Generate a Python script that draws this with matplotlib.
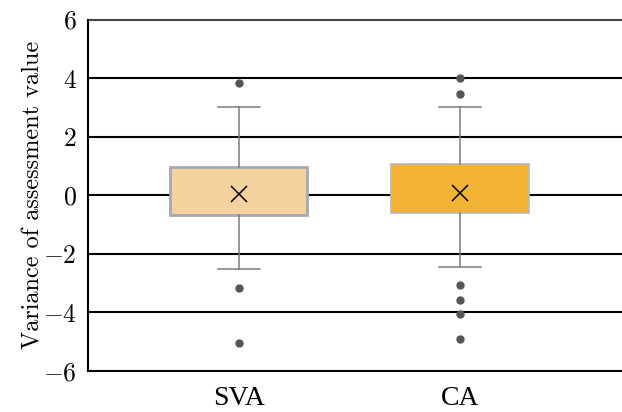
import matplotlib
matplotlib.use("Agg")
import matplotlib.pyplot as plt

plt.rcParams['font.family'] = 'cmr10'
plt.rcParams['mathtext.fontset'] = 'cm'
plt.rcParams['axes.formatter.use_mathtext'] = True

groups = ['SVA', 'CA']
q1 = [-0.69, -0.59]
q3 = [0.98, 1.07]
medians = [0.05, 0.07]
means = [0.05, 0.07]
whislo = [-2.52, -2.45]
whishi = [3.0, 3.0]
fliers = [
    [3.85, -3.15, -5.05],
    [4.0, 3.45, -3.08, -3.57, -4.05, -4.92],
]
fills = ['#F5D19D', '#F3B335']
edges = ['#A3A9B8', '#B8B8B8']

stats = []
for i, g in enumerate(groups):
    stats.append(dict(label=g, q1=q1[i], q3=q3[i], med=medians[i], mean=means[i],
                      whislo=whislo[i], whishi=whishi[i], fliers=fliers[i]))

fig = plt.figure(figsize=(6.22, 4.12), dpi=100)
ax = fig.add_axes([0.1415, 0.0995, 0.8585, 0.853])

for y in [-4, -2, 0, 2, 4]:
    ax.axhline(y, color='black', lw=1.5, zorder=0)
ax.axhline(6, color='#444444', lw=1.5, zorder=0, clip_on=False)

bp = ax.bxp(stats, positions=[0, 1], widths=0.62, capwidths=0.19, patch_artist=True, showmeans=True,
            meanprops=dict(marker='x', markeredgecolor='black', markersize=11, markeredgewidth=1.1),
            medianprops=dict(linewidth=0),
            whiskerprops=dict(color='#7a7a7a', lw=1.1),
            capprops=dict(color='#7a7a7a', lw=1.1),
            flierprops=dict(marker='o', markerfacecolor='#555555', markeredgecolor='#555555', markersize=5))
for i, box in enumerate(bp['boxes']):
    box.set_facecolor(fills[i])
    box.set_edgecolor(edges[i])
    box.set_linewidth(2.0 if i == 0 else 1.2)
    box.set_zorder(2)

ax.set_xlim(-0.683, 1.733)
ax.set_ylim(-6, 6)
ax.set_yticks([-6, -4, -2, 0, 2, 4, 6])
ax.tick_params(axis='y', labelsize=18.5, length=0, pad=8)
ax.tick_params(axis='x', length=0, pad=11)
ax.set_xticklabels(groups, fontsize=20, fontfamily='Liberation Serif')
ax.set_ylabel('Variance of assessment value', fontsize=17.5, labelpad=-1)

for s in ['top', 'right']:
    ax.spines[s].set_visible(False)
ax.spines['left'].set_linewidth(1.5)
ax.spines['bottom'].set_linewidth(1.5)

fig.savefig('out.png', dpi=100)
